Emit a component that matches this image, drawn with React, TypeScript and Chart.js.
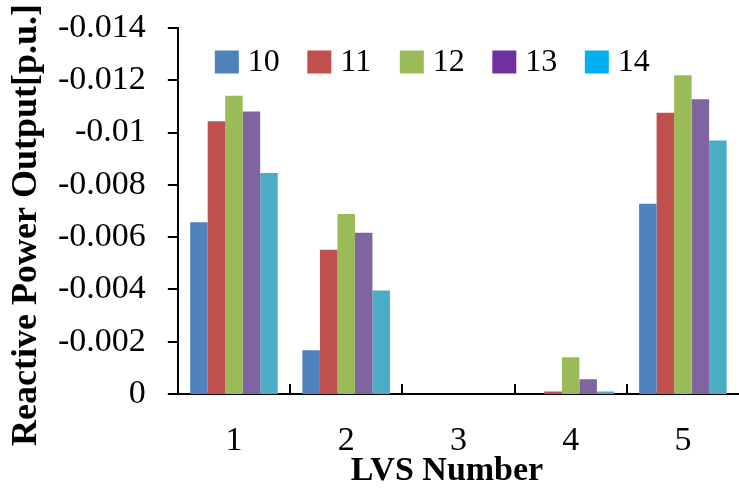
import React, { useEffect, useRef } from "react";
import { Chart, registerables } from "chart.js";

Chart.register(...registerables);

const categories = ["1", "2", "3", "4", "5"];
const seriesLabels = ["10", "11", "12", "13", "14"];
const series10 = [-0.00657, -0.00167, 0, 0, -0.00728];
const series11 = [-0.01043, -0.00552, 0, -0.0001, -0.01076];
const series12 = [-0.01141, -0.00689, 0, -0.00141, -0.01219];
const series13 = [-0.01081, -0.00617, 0, -0.00056, -0.01127];
const series14 = [-0.00845, -0.00396, 0, -0.0001, -0.0097];
const barColors = ["#4F81BD", "#C0504D", "#9BBB59", "#8064A2", "#4BACC6"];
const legendColors = ["#4F81BD", "#C0504D", "#9BBB59", "#7030A0", "#00B0F0"];
const yTickValues = [0, -0.002, -0.004, -0.006, -0.008, -0.01, -0.012, -0.014];
const yTickLabels = ["0", "-0.002", "-0.004", "-0.006", "-0.008", "-0.01", "-0.012", "-0.014"];
const xTitle = "LVS Number";
const yTitle = "Reactive Power Output[p.u.]";

const FONT = '"Liberation Serif", "Times New Roman", serif';

const overlay = {
  id: "overlay",
  afterDraw(chart: any) {
    const ctx = chart.ctx;
    const xs = chart.scales.x;
    const ys = chart.scales.y;
    const area = chart.chartArea;
    ctx.save();
    ctx.strokeStyle = "#000";
    ctx.lineWidth = 2;
    // inner category separator ticks
    for (let i = 0; i < categories.length - 1; i++) {
      const x = Math.round((xs.getPixelForValue(i) + xs.getPixelForValue(i + 1)) / 2);
      ctx.beginPath();
      ctx.moveTo(x, area.bottom);
      ctx.lineTo(x, area.bottom - 10);
      ctx.stroke();
    }
    // outer y tick marks
    yTickValues.forEach((v) => {
      const y = Math.round(ys.getPixelForValue(v));
      ctx.beginPath();
      ctx.moveTo(area.left - 10, y);
      ctx.lineTo(area.left, y);
      ctx.stroke();
    });
    // legend
    ctx.font = "32px " + FONT;
    ctx.textBaseline = "middle";
    ctx.textAlign = "left";
    let lx = area.left + 37;
    const ly = 62;
    chart.data.datasets.forEach((ds: any, i: number) => {
      ctx.fillStyle = legendColors[i];
      ctx.fillRect(lx, ly - 11.5, 24, 23);
      ctx.fillStyle = "#000";
      ctx.fillText(ds.label, lx + 33, ly + 1);
      lx += 92.5;
    });
    // x title
    ctx.font = "bold 34px " + FONT;
    ctx.textAlign = "center";
    ctx.textBaseline = "middle";
    ctx.fillText(xTitle, 447, 471);
    // y title
    ctx.translate(27, 225);
    ctx.rotate(-Math.PI / 2);
    ctx.font = "bold 36px " + FONT;
    ctx.fillText(yTitle, 0, 0);
    ctx.restore();
  },
};

export default function App() {
  const ref = useRef<HTMLCanvasElement | null>(null);
  useEffect(() => {
    document.body.style.margin = "0";
    const data = [series10, series11, series12, series13, series14];
    const chart = new Chart(ref.current as HTMLCanvasElement, {
      type: "bar",
      data: {
        labels: categories,
        datasets: seriesLabels.map((l, i) => ({
          label: l,
          data: data[i],
          backgroundColor: barColors[i],
          borderWidth: 0,
          categoryPercentage: 0.78,
          barPercentage: 1,
        })),
      },
      options: {
        animation: false,
        responsive: true,
        maintainAspectRatio: false,
        layout: { padding: { left: 47, top: 10, right: 0, bottom: 9 } },
        plugins: { legend: { display: false }, tooltip: { enabled: false } },
        scales: {
          x: {
            grid: { display: false, drawTicks: false },
            border: { display: true, color: "#000", width: 2 },
            ticks: { color: "#000", font: { family: FONT, size: 34, lineHeight: 1 }, padding: 30 },
          },
          y: {
            reverse: true,
            min: -0.014,
            max: 0,
            afterBuildTicks: (axis: any) => {
              axis.ticks = yTickValues.map((v) => ({ value: v }));
            },
            grid: { display: false, drawOnChartArea: false, drawTicks: true, tickLength: 21 },
            border: { display: true, color: "#000", width: 2 },
            ticks: {
              color: "#000",
              font: { family: FONT, size: 34, lineHeight: 1 },
              padding: 11,
              callback: (v: any) => {
                const idx = yTickValues.findIndex((t) => Math.abs(t - Number(v)) < 1e-9);
                return idx >= 0 ? yTickLabels[idx] : "";
              },
            },
          },
        },
      },
      plugins: [overlay],
    });
    return () => chart.destroy();
  }, []);
  return (
    <div style={{ width: 739, height: 497, position: "relative" }}>
      <canvas ref={ref} />
    </div>
  );
}
